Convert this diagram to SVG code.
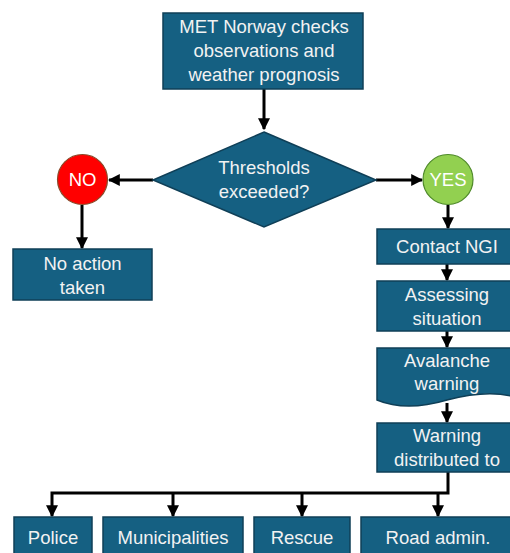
<svg xmlns="http://www.w3.org/2000/svg" width="510" height="553" viewBox="0 0 510 553">
<defs>
<style>
.box{fill:#156082;stroke:#0f3f57;stroke-width:1.5}
.t{font-family:"Liberation Sans",Arial,sans-serif;font-size:18.5px;fill:#f2f2f2;text-anchor:middle;dominant-baseline:central}
.c{fill:none;stroke:#000;stroke-width:3}
</style>
<marker id="ah" viewBox="0 0 10 10" refX="9" refY="5" markerWidth="4" markerHeight="4" orient="auto" markerUnits="strokeWidth">
<path d="M0,0 L10,5 L0,10 Z" fill="#000"/>
</marker>
</defs>
<rect width="510" height="553" fill="#fff"/>
<g id="connectors">
<path class="c" d="M264,89 V129" marker-end="url(#ah)"/>
<path class="c" d="M153,180 H109" marker-end="url(#ah)"/>
<path class="c" d="M376,180 H422" marker-end="url(#ah)"/>
<path class="c" d="M82,205 V248" marker-end="url(#ah)"/>
<path class="c" d="M448,205 V228" marker-end="url(#ah)"/>
<path class="c" d="M447,264 V280" marker-end="url(#ah)"/>
<path class="c" d="M447,331 V347" marker-end="url(#ah)"/>
<path class="c" d="M447,403 V422" marker-end="url(#ah)"/>
<path class="c" d="M448,472 V493 H52 V516" marker-end="url(#ah)"/>
<path class="c" d="M173,493 V516" marker-end="url(#ah)"/>
<path class="c" d="M302,493 V516" marker-end="url(#ah)"/>
<path class="c" d="M438,493 V516" marker-end="url(#ah)"/>
</g>
<g id="met">
<rect class="box" x="163" y="13" width="200" height="76"/>
<text class="t" x="264" y="26">MET Norway checks</text>
<text class="t" x="264" y="50">observations and</text>
<text class="t" x="264" y="74">weather prognosis</text>
</g>
<g id="thresholds">
<polygon class="box" points="264,132 376,180 264,227 153,180"/>
<text class="t" x="264" y="167">Thresholds</text>
<text class="t" x="264" y="191">exceeded?</text>
</g>
<g id="no">
<circle cx="82.5" cy="179.5" r="25" fill="#ff0000" stroke="#8a4a2a" stroke-width="1.2"/>
<text class="t" x="82.5" y="179.5" style="fill:#fff">NO</text>
</g>
<g id="yes">
<circle cx="448" cy="179.5" r="25" fill="#92d050" stroke="#4f8a2a" stroke-width="1.2"/>
<text class="t" x="448" y="179.5" style="fill:#fff">YES</text>
</g>
<g id="noaction">
<rect class="box" x="13" y="249" width="139" height="51"/>
<text class="t" x="82.5" y="263">No action</text>
<text class="t" x="82.5" y="287">taken</text>
</g>
<g id="contact">
<rect class="box" x="377" y="229" width="141" height="35"/>
<text class="t" x="447" y="246">Contact NGI</text>
</g>
<g id="assessing">
<rect class="box" x="377" y="281" width="141" height="50"/>
<text class="t" x="447" y="294">Assessing</text>
<text class="t" x="447" y="318">situation</text>
</g>
<g id="avalanche">
<path class="box" d="M377,348 H518 V398 C500,392 478,392 447,400 C420,408 396,408 377,400 Z"/>
<text class="t" x="447" y="360">Avalanche</text>
<text class="t" x="447" y="383">warning</text>
</g>
<g id="distributed">
<rect class="box" x="377" y="423" width="141" height="49"/>
<text class="t" x="447" y="435">Warning</text>
<text class="t" x="447" y="459">distributed to</text>
</g>
<g id="police">
<rect class="box" x="14" y="517" width="78" height="45"/>
<text class="t" x="53" y="537">Police</text>
</g>
<g id="municipalities">
<rect class="box" x="103" y="517" width="140" height="45"/>
<text class="t" x="173" y="537">Municipalities</text>
</g>
<g id="rescue">
<rect class="box" x="254" y="517" width="96" height="45"/>
<text class="t" x="302" y="537">Rescue</text>
</g>
<g id="road">
<rect class="box" x="361" y="517" width="155" height="45"/>
<text class="t" x="438" y="537">Road admin.</text>
</g>
</svg>
